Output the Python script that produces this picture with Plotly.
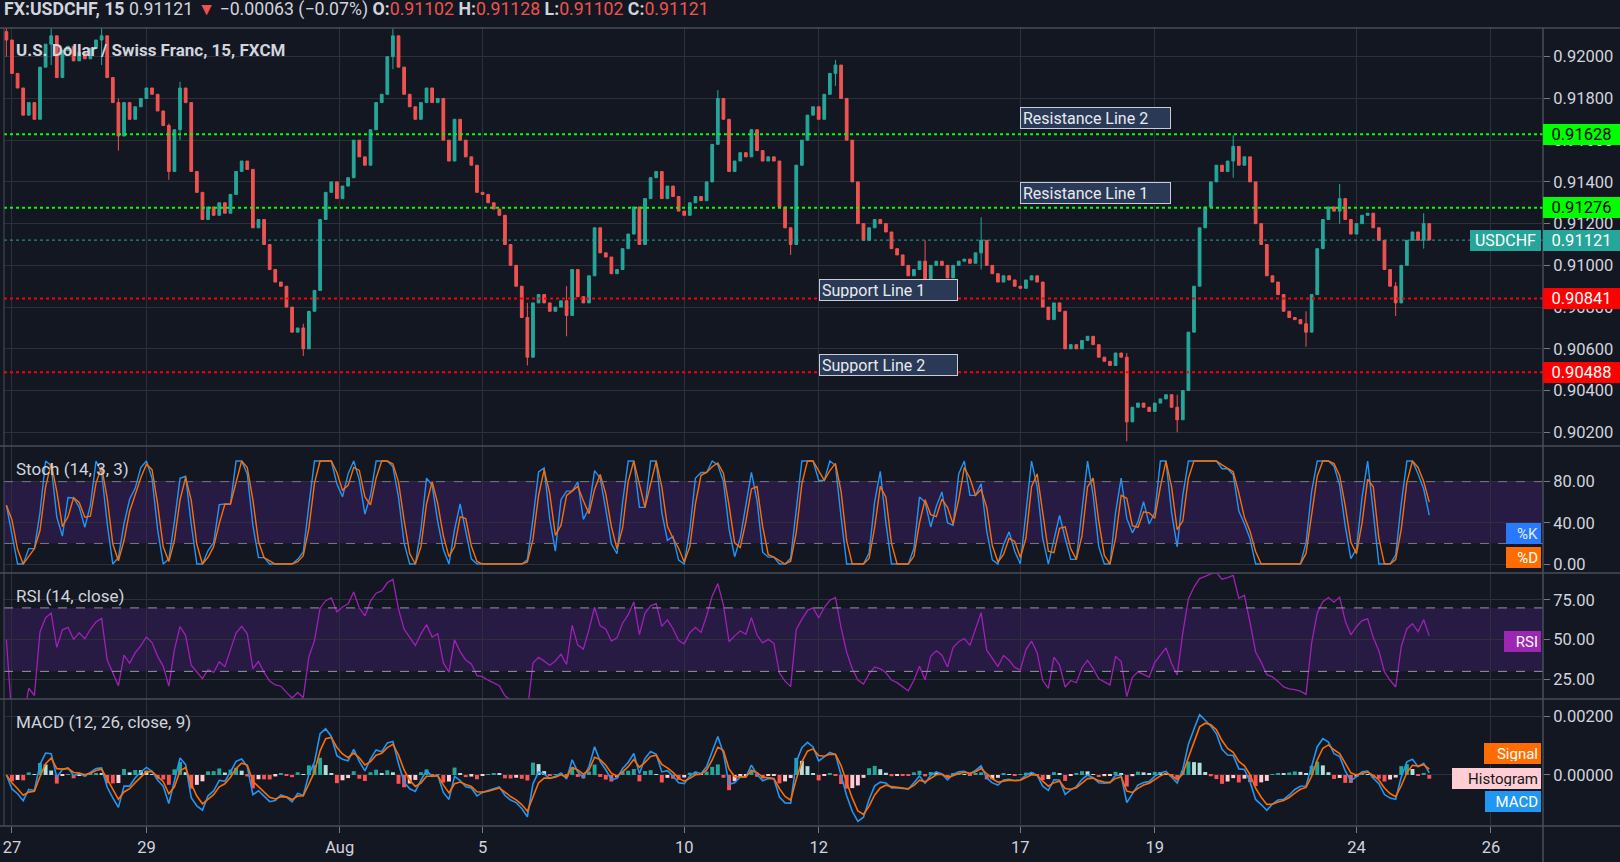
import pandas as pd
import numpy as np
import plotly.graph_objects as go
from plotly.subplots import make_subplots
from datetime import datetime, timedelta

# ---------------- data (2-hour steps) ----------------
first_open = 0.9212
closes = [
    0.9208, 0.9192, 0.9185, 0.9172, 0.9178, 0.9170, 0.9195, 0.9206, 0.9210, 0.9190,
    0.9203, 0.9205, 0.9198, 0.9202, 0.9199, 0.9204, 0.9208, 0.9210, 0.9190, 0.9178,
    0.9162, 0.9178, 0.9170, 0.9176, 0.9180, 0.9185, 0.9182, 0.9174, 0.9167, 0.9145,
    0.9165, 0.9185, 0.9178, 0.9145, 0.9135, 0.9122, 0.9128, 0.9124, 0.9130, 0.9125,
    0.9134, 0.9145, 0.9150, 0.9146, 0.9118, 0.9122, 0.9110, 0.9098, 0.9092, 0.9090,
    0.9080, 0.9068, 0.9070, 0.9060, 0.9078, 0.9088, 0.9122, 0.9135, 0.9140, 0.9132,
    0.9138, 0.9142, 0.9160, 0.9152, 0.9148, 0.9165, 0.9178, 0.9182, 0.9200, 0.9210,
    0.9195, 0.9182, 0.9176, 0.9170, 0.9178, 0.9185, 0.9178, 0.9180, 0.9160, 0.9150,
    0.9170, 0.9160, 0.9152, 0.9148, 0.9135, 0.9134, 0.9130, 0.9127, 0.9124, 0.9110,
    0.9100, 0.9090, 0.9075, 0.9056, 0.9082, 0.9086, 0.9082, 0.9078, 0.9080, 0.9083,
    0.9076, 0.9098, 0.9085, 0.9082, 0.9095, 0.9118, 0.9106, 0.9104, 0.9096, 0.9098,
    0.9108, 0.9115, 0.9128, 0.9110, 0.9132, 0.9142, 0.9145, 0.9132, 0.9138, 0.9133,
    0.9126, 0.9124, 0.9130, 0.9133, 0.9131, 0.9140, 0.9158, 0.9180, 0.9170, 0.9145,
    0.9150, 0.9154, 0.9152, 0.9165, 0.9155, 0.9150, 0.9152, 0.9150, 0.9128, 0.9118,
    0.9110, 0.9148, 0.9160, 0.9172, 0.9176, 0.9170, 0.9182, 0.9192, 0.9196, 0.9180,
    0.9160, 0.9140, 0.9120, 0.9112, 0.9118, 0.9122, 0.9120, 0.9116, 0.9108, 0.9105,
    0.9100, 0.9095, 0.9098, 0.9102, 0.9092, 0.9100, 0.9102, 0.9100, 0.9094, 0.9100,
    0.9102, 0.9103, 0.9101, 0.9106, 0.9112, 0.9100, 0.9096, 0.9092, 0.9095, 0.9093,
    0.9090, 0.9089, 0.9093, 0.9095, 0.9092, 0.9080, 0.9074, 0.9082, 0.9078, 0.9060,
    0.9062, 0.9060, 0.9064, 0.9066, 0.9062, 0.9056, 0.9054, 0.9052, 0.9058, 0.9056,
    0.9025, 0.9032, 0.9034, 0.9032, 0.9030, 0.9034, 0.9036, 0.9038, 0.9032, 0.9026,
    0.9040, 0.9068, 0.9090, 0.9118, 0.9128, 0.9140, 0.9148, 0.9145, 0.9150, 0.9157,
    0.9148, 0.9152, 0.9140, 0.9120, 0.9110, 0.9095, 0.9092, 0.9086, 0.9078, 0.9075,
    0.9074, 0.9072, 0.9068, 0.9086, 0.9108, 0.9122, 0.9128, 0.9126, 0.9132, 0.9122,
    0.9115, 0.9120, 0.9124, 0.9125, 0.9118, 0.9112, 0.9098, 0.9090, 0.9082, 0.9100,
    0.9112, 0.9116, 0.9112, 0.9120, 0.91121,
]

# notable wick extremes (bar index, high, low)
wick_bars = [0, 8, 17, 20, 29, 31, 53, 69, 93, 100, 127, 140, 148, 164, 174, 200, 209, 219, 232, 238, 248, 253]
wick_highs = [0.9214, 0.9214, 0.9214, 0.9180, 0.9168, 0.9188, 0.9072, 0.9214, 0.9082, 0.9090, 0.9184, 0.9118,
              0.91985, 0.9112, 0.9123, 0.9058, 0.9038, 0.91624, 0.9078, 0.9139, 0.9092, 0.9125]
wick_lows = [0.9200, 0.9196, 0.9196, 0.9155, 0.9141, 0.9160, 0.90566, 0.9194, 0.9052, 0.9066, 0.9160, 0.9105,
             0.9186, 0.9087, 0.9098, 0.90157, 0.9020, 0.9142, 0.9061, 0.9120, 0.90757, 0.9108]

level_names = ["Resistance Line 2", "Resistance Line 1", "Support Line 1", "Support Line 2"]
level_values = [0.91628, 0.91276, 0.90841, 0.90488]
level_colors = ["#00FF00", "#00FF00", "#FF0000", "#FF0000"]
level_text_colors = ["#000000", "#000000", "#FFFFFF", "#FFFFFF"]
level_label_dates = ["2020-08-17 00:00", "2020-08-17 00:00", "2020-08-12 00:00", "2020-08-12 00:00"]
level_label_yshift = [5, 4, -2, -4]
level_label_width = [145, 145, 133, 133]

last_price = 0.91121
header_open, header_high, header_low, header_close = 0.91102, 0.91128, 0.91102, 0.91121
header_change, header_change_pct = -0.00063, -0.07

tick_dates = ["2020-07-27 00:00", "2020-07-29 00:00", "2020-08-02 21:00", "2020-08-05 00:00",
              "2020-08-10 00:00", "2020-08-12 00:00", "2020-08-17 00:00", "2020-08-19 00:00",
              "2020-08-24 00:00", "2020-08-26 00:00"]
tick_text = ["27", "29", "Aug", "5", "10", "12", "17", "19", "24", "26"]

price_ticks = [0.902, 0.904, 0.906, 0.908, 0.910, 0.912, 0.914, 0.916, 0.918, 0.920]
stoch_ticks = [0, 40, 80]
rsi_ticks = [25, 50, 75]
macd_ticks = [0.0, 0.002]

price_range = [0.901343, 0.921376]
stoch_range = [-8.7, 114.6]
rsi_range = [12.6, 92.0]
macd_range = [-0.00175, 0.002607]

# ---------------- styling ----------------
BG = "#131722"
GRID = "#2C303B"
SEP = "#4A4E59"
TXT = "#D1D4DC"
UP = "#26A69A"
DN = "#EF5350"
BLUE = "#2196F3"
ORANGE = "#FF6D00"
PURPLE = "#9C27B0"
FONT = "Roboto, Noto Sans, sans-serif"

# ---------------- time axis (FX session: Sun 21:00 -> Fri 21:00) ----------------
session_start = datetime(2020, 7, 26, 21, 0)
week_hours = 120
bar_hours = 2


def session_time(h):
    w, r = divmod(h, week_hours)
    return session_start + timedelta(days=7 * w, hours=r)


n = len(closes)
xs = [session_time(bar_hours * k) + timedelta(hours=bar_hours / 2) for k in range(n)]
weekend_starts = [session_start + timedelta(days=7 * (w - 1), hours=week_hours) for w in range(1, 5)]
x_range = [session_time(0.15), session_time(549.6)]

# ---------------- OHLC and indicators ----------------
c = pd.Series(closes, dtype=float)
o = c.shift(1).fillna(first_open)
h = pd.concat([o, c], axis=1).max(axis=1)
l = pd.concat([o, c], axis=1).min(axis=1)
for b, wh, wl in zip(wick_bars, wick_highs, wick_lows):
    h.iloc[b] = max(h.iloc[b], wh)
    l.iloc[b] = min(l.iloc[b], wl)

# stochastic (lookback scaled to 2-hour bars)
stoch_len = 3
ll = l.rolling(stoch_len, min_periods=1).min()
hh = h.rolling(stoch_len, min_periods=1).max()
rng = (hh - ll).replace(0, np.nan)
stoch_raw = (100 * (c - ll) / rng).fillna(50)
stoch_k = stoch_raw.rolling(2, min_periods=1).mean()
stoch_d = stoch_k.rolling(2, min_periods=1).mean()

# RSI (Wilder)
rsi_len = 6
delta = c.diff().fillna(0)
gain = delta.clip(lower=0).ewm(alpha=1 / rsi_len, adjust=False).mean()
loss = (-delta.clip(upper=0)).ewm(alpha=1 / rsi_len, adjust=False).mean()
rsi = (100 - 100 / (1 + gain / loss.replace(0, np.nan))).fillna(50)

# MACD (spans scaled to 2-hour bars)
ema_fast = c.ewm(alpha=0.7, adjust=False).mean()
ema_slow = c.ewm(alpha=0.4, adjust=False).mean()
macd = ema_fast - ema_slow
signal = macd.ewm(alpha=0.55, adjust=False).mean()
hist = macd - signal
hist_colors = []
for i in range(n):
    prev = hist.iloc[i - 1] if i > 0 else 0
    v = hist.iloc[i]
    if v >= 0:
        hist_colors.append("#26A69A" if v >= prev else "#B2DFDB")
    else:
        hist_colors.append("#FF5252" if v <= prev else "#FFCDD2")

# ---------------- figure ----------------
fig = make_subplots(rows=4, cols=1, shared_xaxes=True, vertical_spacing=0,
                    row_heights=[418, 127, 126, 127])

fig.add_trace(go.Candlestick(
    x=xs, open=o, high=h, low=l, close=c,
    increasing=dict(line=dict(color=UP, width=1), fillcolor=UP),
    decreasing=dict(line=dict(color=DN, width=1), fillcolor=DN),
    whiskerwidth=0, showlegend=False, hoverinfo="skip"), row=1, col=1)

# stochastic band
fig.add_shape(type="rect", xref="x2 domain", yref="y2", x0=0, x1=1, y0=20, y1=80,
              fillcolor="rgba(120,40,200,0.20)", line_width=0, layer="below")
for v in (20, 80):
    fig.add_shape(type="line", xref="x2 domain", yref="y2", x0=0, x1=1, y0=v, y1=v,
                  line=dict(color="#787B86", width=1, dash="dash"))
fig.add_trace(go.Scatter(x=xs, y=stoch_k, mode="lines", line=dict(color=BLUE, width=1.4),
                         showlegend=False, hoverinfo="skip"), row=2, col=1)
fig.add_trace(go.Scatter(x=xs, y=stoch_d, mode="lines", line=dict(color=ORANGE, width=1.4),
                         showlegend=False, hoverinfo="skip"), row=2, col=1)

# RSI band
fig.add_shape(type="rect", xref="x3 domain", yref="y3", x0=0, x1=1, y0=30, y1=70,
              fillcolor="rgba(120,40,200,0.20)", line_width=0, layer="below")
for v in (30, 70):
    fig.add_shape(type="line", xref="x3 domain", yref="y3", x0=0, x1=1, y0=v, y1=v,
                  line=dict(color="#9598A1", width=1, dash="dash"))
fig.add_trace(go.Scatter(x=xs, y=rsi, mode="lines", line=dict(color="#A020B8", width=1.3),
                         showlegend=False, hoverinfo="skip"), row=3, col=1)

# MACD
fig.add_trace(go.Bar(x=xs, y=hist, marker=dict(color=hist_colors, line_width=0),
                     showlegend=False, hoverinfo="skip"), row=4, col=1)
fig.add_trace(go.Scatter(x=xs, y=macd, mode="lines", line=dict(color=BLUE, width=1.6),
                         showlegend=False, hoverinfo="skip"), row=4, col=1)
fig.add_trace(go.Scatter(x=xs, y=signal, mode="lines", line=dict(color=ORANGE, width=1.6),
                         showlegend=False, hoverinfo="skip"), row=4, col=1)

# horizontal levels
for val, col in zip(level_values, level_colors):
    fig.add_shape(type="line", xref="x domain", yref="y", x0=0, x1=1, y0=val, y1=val,
                  line=dict(color=col, width=2, dash="dot"))
fig.add_shape(type="line", xref="x domain", yref="y", x0=0, x1=1, y0=last_price, y1=last_price,
              line=dict(color=UP, width=1, dash="dot"))

# ---------------- layout ----------------
fig.update_layout(
    width=1620, height=862,
    margin=dict(l=4, r=77, t=28, b=36),
    paper_bgcolor=BG, plot_bgcolor=BG,
    showlegend=False, bargap=0.3,
    font=dict(family=FONT, color=TXT, size=15),
)

fig.update_xaxes(type="date", range=x_range,
                 rangebreaks=[dict(values=[d.strftime("%Y-%m-%d %H:%M") for d in weekend_starts],
                                   dvalue=48 * 3600 * 1000)],
                 tickvals=tick_dates, ticktext=tick_text,
                 showgrid=True, gridcolor=GRID, gridwidth=1, zeroline=False,
                 rangeslider_visible=False, showline=False, ticks="")
fig.update_xaxes(showticklabels=True, ticks="outside", ticklen=6, tickcolor="#787B86",
                 tickfont=dict(size=16.5, color=TXT), row=4, col=1)

axis_common = dict(side="right", showgrid=True, gridcolor=GRID, gridwidth=1, zeroline=False,
                   ticks="outside", ticklen=6, tickcolor="#787B86", showline=False,
                   tickfont=dict(size=16.5, color=TXT))
fig.update_yaxes(range=price_range, tickvals=price_ticks,
                 ticktext=[f"{v:.5f}" for v in price_ticks], row=1, col=1, **axis_common)
fig.update_yaxes(range=stoch_range, tickvals=stoch_ticks,
                 ticktext=[f"{v:.2f}" for v in stoch_ticks], row=2, col=1, **axis_common)
fig.update_yaxes(range=rsi_range, tickvals=rsi_ticks,
                 ticktext=[f"{v:.2f}" for v in rsi_ticks], row=3, col=1, **axis_common)
fig.update_yaxes(range=macd_range, tickvals=macd_ticks,
                 ticktext=[f"{v:.5f}" for v in macd_ticks], row=4, col=1, **axis_common)

# pane separators / frame
plot_w = 1620 - 4 - 77
plot_h = 862 - 28 - 36
right_extent = 1 + 77 / plot_w
seps = [1.0, fig.layout.yaxis2.domain[1], fig.layout.yaxis3.domain[1], fig.layout.yaxis4.domain[1], 0.0]
for yv in seps:
    fig.add_shape(type="line", xref="paper", yref="paper", x0=-4 / plot_w, x1=right_extent,
                  y0=yv, y1=yv, line=dict(color=SEP, width=1.5))
fig.add_shape(type="line", xref="paper", yref="paper", x0=1, x1=1, y0=-36 / plot_h, y1=1,
              line=dict(color=SEP, width=1.5))
fig.add_shape(type="line", xref="paper", yref="paper", x0=0, x1=0, y0=0, y1=1,
              line=dict(color=SEP, width=1))

ann = []
red = "#EF5350"
ann.append(dict(
    xref="paper", yref="paper", x=0, y=1, xanchor="left", yanchor="middle", xshift=-2, yshift=19,
    showarrow=False, font=dict(size=17.7, color=TXT, family=FONT),
    text=(f"<b>FX:USDCHF, 15</b> {header_close:.5f} <span style='color:{red}'>▼</span> "
          f"{header_change:.5f} ({header_change_pct:.2f}%) ".replace("-", "−")
          + f"<b>O:</b><span style='color:{red}'>{header_open:.5f}</span> "
          f"<b>H:</b><span style='color:{red}'>{header_high:.5f}</span> "
          f"<b>L:</b><span style='color:{red}'>{header_low:.5f}</span> "
          f"<b>C:</b><span style='color:{red}'>{header_close:.5f}</span>")))
ann.append(dict(xref="paper", yref="y domain", x=0, y=1, xanchor="left", yanchor="middle",
                xshift=10, yshift=-22, showarrow=False,
                font=dict(size=17, color=TXT, family=FONT),
                text="<b>U.S. Dollar / Swiss Franc, 15, FXCM</b>"))
for yr, t in (("y2 domain", "Stoch (14, 3, 3)"), ("y3 domain", "RSI (14, close)"),
              ("y4 domain", "MACD (12, 26, close, 9)")):
    ann.append(dict(xref="paper", yref=yr, x=0, y=1, xanchor="left", yanchor="middle",
                    xshift=10, yshift=-23, showarrow=False,
                    font=dict(size=17, color=TXT, family=FONT), text=t))

# drawing labels
for name, val, d, ys, w in zip(level_names, level_values, level_label_dates,
                               level_label_yshift, level_label_width):
    ann.append(dict(xref="x", yref="y", x=d, y=val, xanchor="left", yanchor="bottom",
                    yshift=ys, showarrow=False, text=name, align="left",
                    width=w, height=16, borderpad=2, borderwidth=1,
                    bgcolor="#2A3A56", bordercolor="#C8CCD6",
                    font=dict(size=16, color="#E8EAF0", family=FONT)))

# price scale tags
for val, col, tc in zip(level_values, level_colors, level_text_colors):
    ann.append(dict(xref="paper", yref="y", x=1, y=val, xanchor="left", yanchor="middle",
                    showarrow=False, text=f"{val:.5f}", width=71, height=15, borderpad=2,
                    borderwidth=1, bordercolor=col, bgcolor=col,
                    font=dict(size=16.5, color=tc, family=FONT)))
ann.append(dict(xref="paper", yref="y", x=1, y=last_price, xanchor="left", yanchor="middle",
                showarrow=False, text=f"{last_price:.5f}", width=71, height=15, borderpad=2,
                borderwidth=1, bordercolor=UP, bgcolor=UP,
                font=dict(size=16.5, color="#FFFFFF", family=FONT)))
ann.append(dict(xref="paper", yref="y", x=1, y=last_price, xanchor="right", yanchor="middle",
                xshift=-2, showarrow=False, text="USDCHF", width=65, height=15, borderpad=2,
                borderwidth=1, bordercolor=UP, bgcolor=UP,
                font=dict(size=16, color="#FFFFFF", family=FONT)))

# indicator legend tags
tags = [
    ("y2 domain", 0.311, "%K", "#2979FF", "#E0E8FF", 29),
    ("y2 domain", 0.122, "%D", ORANGE, "#FFFFFF", 29),
    ("y3 domain", 0.456, "RSI", PURPLE, "#FFFFFF", 31),
    ("y4 domain", 0.567, "Signal", ORANGE, "#FFFFFF", 51),
    ("y4 domain", 0.374, "Histogram", "#FFCDD2", "#131722", 83),
    ("y4 domain", 0.189, "MACD", "#2196F3", "#FFFFFF", 50),
]
for yr, yv, t, bg, fc, w in tags:
    ann.append(dict(xref="paper", yref=yr, x=1, y=yv, xanchor="right", yanchor="middle",
                    xshift=-2, showarrow=False, text=t, width=w, height=15, borderpad=2,
                    borderwidth=1, bordercolor=bg, bgcolor=bg, align="right",
                    font=dict(size=15, color=fc, family=FONT)))

fig.update_layout(annotations=ann)

fig.write_html("out.html", config={"displayModeBar": False},
               post_script="document.body.style.margin='0px';")
